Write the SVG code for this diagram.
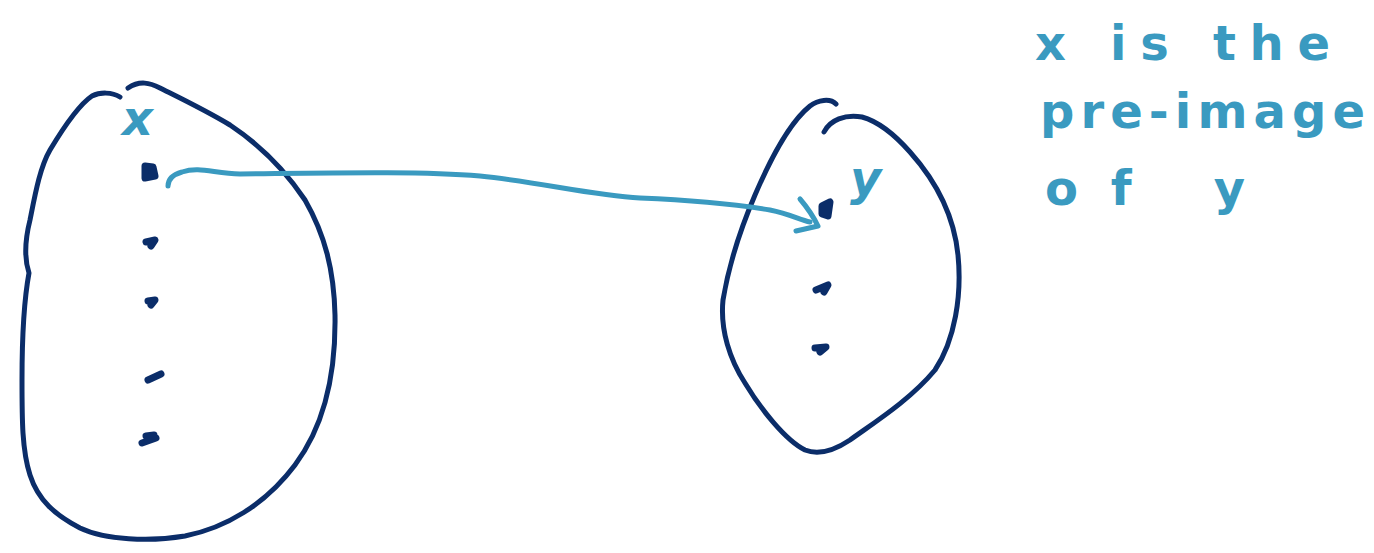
<svg xmlns="http://www.w3.org/2000/svg" width="1374" height="553" viewBox="0 0 1374 553">
<style>
.set{fill:none;stroke:#0b2d69;stroke-width:5;stroke-linecap:round;stroke-linejoin:round}
.dot{fill:#0b2d69;stroke:#0b2d69;stroke-width:7;stroke-linecap:round;stroke-linejoin:round}
.conn{fill:none;stroke:#3a9ac0;stroke-width:5;stroke-linecap:round;stroke-linejoin:round}
.lbl{fill:#3a9ac0;font-family:"DejaVu Sans","Liberation Sans",sans-serif;font-size:48px;font-weight:bold}
</style>
<rect width="1374" height="553" fill="#ffffff"/>
<g id="setX">
<path class="set" d="M120,97 C112,92 100,92 92,96 C80,104 65,125 50,150 C40,167 35,195 30,220 C25,240 24,258 29,273 C24,300 22,340 22,380 C22,420 22,450 30,475 C38,500 55,515 80,528 C105,540 150,542 185,536 C225,528 265,505 295,465 C325,425 336,375 335,315 C334,270 325,235 305,200 C285,170 260,145 230,125 C205,110 180,98 160,88 C150,83 140,80 128,88"/>
<path class="dot" d="M145,166 L153,167 L155,176 L145,178 Z"/>
<path class="dot" d="M146,242 L155,240 L151,246"/>
<path class="dot" d="M148,301 L155,300 L151,305"/>
<path class="dot" d="M148,380 L161,374"/>
<path class="dot" d="M142,443 L156,438 M146,436 L154,435"/>
<text class="lbl" x="122" y="135" font-style="italic">x</text>
</g>
<g id="setY">
<path class="set" d="M836,104 C830,98 818,100 810,106 C790,122 770,160 755,195 C740,230 728,270 723,300 C720,330 730,360 745,383 C760,408 785,440 805,450 C820,456 835,450 850,440 C875,422 910,400 935,370 C955,340 962,295 958,255 C954,215 935,180 910,152 C895,135 880,122 862,117 C845,114 830,120 824,132"/>
<path class="dot" d="M822,206 L830,202 L828,216 L822,214 Z"/>
<path class="dot" d="M816,290 L828,285 L824,292"/>
<path class="dot" d="M815,348 L826,347 L820,352"/>
<text class="lbl" x="850" y="195" font-style="italic">y</text>
</g>
<g id="connectors">
<path class="conn" d="M168,186 C168,178 175,174 182,172 C200,166 215,174 240,174 C330,173 420,171 480,176 C540,182 590,195 640,198 C690,200 740,205 770,210 C790,214 800,220 810,222"/>
<path class="conn" d="M800,199 C806,206 812,214 818,226 L796,231"/>
</g>
<g id="note">
<text class="lbl" x="1035" y="60" textLength="295" lengthAdjust="spacing">x is the</text>
<text class="lbl" x="1040" y="128" textLength="325" lengthAdjust="spacing">pre-image</text>
<text class="lbl" x="1045" y="205" textLength="200" lengthAdjust="spacing">of y</text>
</g>
</svg>
